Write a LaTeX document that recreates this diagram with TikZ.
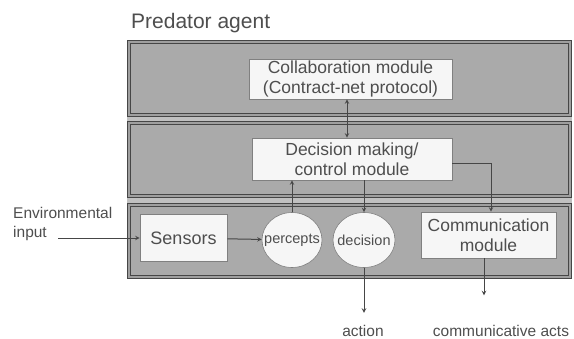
\documentclass[tikz,border=0pt]{standalone}
\usepackage{fontspec}
\setmainfont{Liberation Sans}
\usepackage{tikz}
\usetikzlibrary{shapes.geometric}

\definecolor{bandfill}{RGB}{170,170,170}
\definecolor{bandline}{RGB}{70,70,70}
\definecolor{gapfill}{RGB}{192,192,192}
\definecolor{boxfill}{RGB}{246,246,246}
\definecolor{inkgray}{RGB}{78,78,78}

\begin{document}
\begin{tikzpicture}[x=1pt,y=-1pt,
  every node/.style={text=inkgray,inner sep=0pt},
  band/.style={draw=bandline,line width=1.3pt,double=gray!75,double distance=1.4pt,fill=bandfill},
  modbox/.style={draw=gray,fill=boxfill,line width=0.6pt,align=center,font=\fontsize{17.5}{20}\selectfont},
  blob/.style={ellipse,draw=gray,fill=boxfill,line width=0.6pt,minimum width=60pt,minimum height=55pt},
  small/.style={font=\fontsize{15.5}{19}\selectfont},
  tiny/.style={font=\fontsize{14.5}{16}\selectfont},
  link/.style={draw=bandline,line width=1pt,->,>=stealth}]
  \useasboundingbox (0,0) rectangle (574,338);

  % Title
  \node[anchor=base west,font=\fontsize{21}{23}\selectfont] (title) at (131,28) {Predator agent};

  % Layers of the agent
  \fill[gapfill] (127,40) rectangle (572,279);
  \draw[band] (129,42) rectangle (570,115);
  \draw[band] (129,123) rectangle (570,196);
  \draw[band] (129,205) rectangle (570,277);

  % Modules
  \node[modbox,minimum width=203pt,minimum height=40pt] (collab) at (350.5,79)
    {Collaboration module\\(Contract-net protocol)};
  \node[modbox,minimum width=200pt,minimum height=42pt] (dec) at (352,159)
    {Decision making/\\control module};
  \node[modbox,minimum width=87pt,minimum height=47pt,font=\fontsize{18}{20}\selectfont] (sens) at (183.5,238)
    {Sensors};
  \node[modbox,minimum width=135pt,minimum height=46pt] (comm) at (488.5,235)
    {Communication\\module};
  \node[blob,label={[tiny]center:percepts}] (perc) at (292,240) {};
  \node[blob,minimum width=62pt,label={[tiny]center:decision}] (deci) at (364,240) {};

  % Outside labels
  \node[small,align=left,anchor=north west] (env) at (13,207) {Environmental\\input};
  \node[small,anchor=base] (act) at (363,336) {action};
  \node[small,anchor=base] (acts) at (501,336) {communicative acts};
  \coordinate (envin) at (58,238);

  % Connectors
  \draw[link] (envin) -- (envin -| sens.west);
  \draw[link] (sens) -- (perc);
  \draw[link] (perc.north) -- (perc.north |- dec.south);
  \draw[link] (dec.south -| deci.north) -- (deci.north);
  \draw[link,<->] ([xshift=-3.5pt]collab.south) -- ([xshift=-3.5pt]collab.south |- dec.north);
  \draw[link] ([yshift=-4pt]dec.east) -| ([xshift=2.5pt]comm.north);
  \draw[link] (deci.south) -- ++(0,45);
  \draw[link] ([xshift=-4.5pt]comm.south) -- ++(0,37);
\end{tikzpicture}
\end{document}
